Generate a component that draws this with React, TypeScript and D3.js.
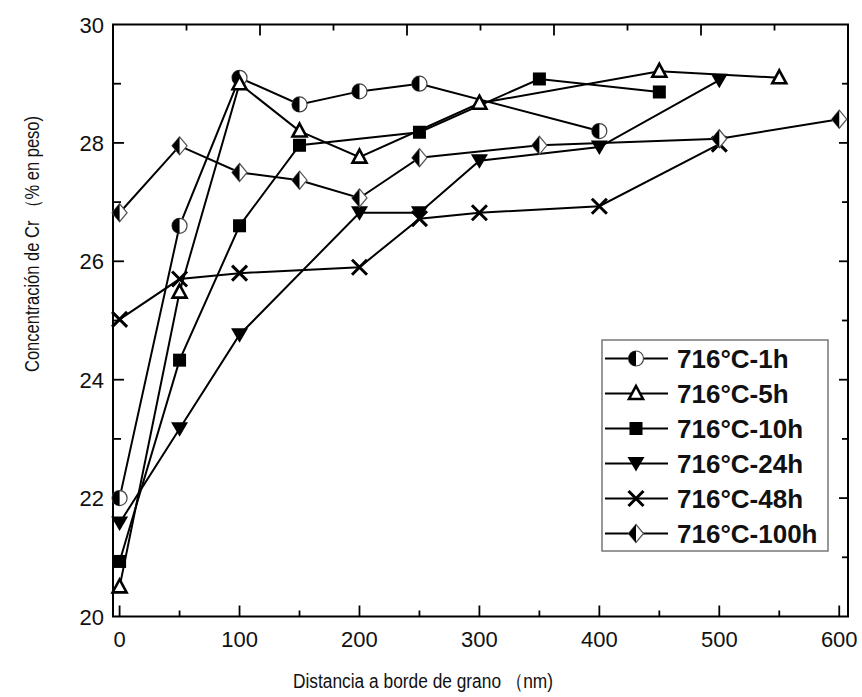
import React, { useEffect, useRef } from 'react';
import * as d3 from 'd3';

// distancia (nm) y concentración de Cr (% en peso) por tratamiento
const dist1h = [0, 50, 100, 150, 200, 250, 400];
const cr1h = [22.0, 26.6, 29.1, 28.65, 28.87, 29.0, 28.2];

const dist5h = [0, 50, 100, 150, 200, 300, 450, 550];
const cr5h = [20.5, 25.48, 29.0, 28.2, 27.76, 28.67, 29.21, 29.1];

const dist10h = [0, 50, 100, 150, 250, 350, 450];
const cr10h = [20.93, 24.33, 26.6, 27.96, 28.18, 29.08, 28.86];

const dist24h = [0, 50, 100, 200, 250, 300, 400, 500];
const cr24h = [21.58, 23.17, 24.76, 26.82, 26.82, 27.7, 27.93, 29.06];

const dist48h = [0, 50, 100, 200, 250, 300, 400, 500];
const cr48h = [25.02, 25.7, 25.8, 25.9, 26.72, 26.82, 26.93, 27.98];

const dist100h = [0, 50, 100, 150, 200, 250, 350, 500, 600];
const cr100h = [26.82, 27.95, 27.5, 27.37, 27.07, 27.75, 27.96, 28.07, 28.4];

const seriesNames = ['716°C-1h', '716°C-5h', '716°C-10h', '716°C-24h', '716°C-48h', '716°C-100h'];
const markerTypes = ['halfCircle', 'triangle', 'square', 'downTriangle', 'cross', 'halfDiamond'];

const xTicks = [0, 100, 200, 300, 400, 500, 600];
const yTicks = [20, 22, 24, 26, 28, 30];

const drawMarker = (g, type) => {
  if (type === 'halfCircle') {
    const r = 7.5;
    g.append('circle').attr('r', r).attr('fill', '#fff').attr('stroke', '#444').attr('stroke-width', 1.2);
    g.append('path').attr('d', `M0,${-r} A${r},${r} 0 0 0 0,${r} Z`).attr('fill', '#000');
  } else if (type === 'triangle') {
    g.append('path').attr('d', 'M0,-7.5 L7,5.5 L-7,5.5 Z')
      .attr('fill', '#fff').attr('stroke', '#000').attr('stroke-width', 2.6);
  } else if (type === 'square') {
    g.append('rect').attr('x', -6.5).attr('y', -6.5).attr('width', 13).attr('height', 13).attr('fill', '#000');
  } else if (type === 'downTriangle') {
    g.append('path').attr('d', 'M-8.5,-6.5 L8.5,-6.5 L0,8 Z').attr('fill', '#000');
  } else if (type === 'cross') {
    g.append('path').attr('d', 'M-7.5,-7.5 L7.5,7.5 M-7.5,7.5 L7.5,-7.5')
      .attr('stroke', '#000').attr('stroke-width', 3).attr('fill', 'none');
  } else if (type === 'halfDiamond') {
    g.append('path').attr('d', 'M0,-9 L7.5,0 L0,9 L-7.5,0 Z')
      .attr('fill', '#fff').attr('stroke', '#555').attr('stroke-width', 1.2);
    g.append('path').attr('d', 'M0,-9 L-7.5,0 L0,9 Z').attr('fill', '#000');
  }
};

const App = () => {
  const ref = useRef(null);

  useEffect(() => {
    const svg = d3.select(ref.current);
    svg.selectAll('*').remove();

    const left = 113, right = 848, top = 24.5, bottom = 616.5;
    const x = d3.scaleLinear().domain([-5.5, 607.3]).range([left, right]);
    const y = d3.scaleLinear().domain([20, 30]).range([bottom, top]);
    const xTop = d3.scaleLinear().domain([0, 10]).range([left, right]);

    const font = 'Arial, "Liberation Sans", sans-serif';

    const series = [
      { dist: dist1h, cr: cr1h },
      { dist: dist5h, cr: cr5h },
      { dist: dist10h, cr: cr10h },
      { dist: dist24h, cr: cr24h },
      { dist: dist48h, cr: cr48h },
      { dist: dist100h, cr: cr100h },
    ].map((s, i) => ({
      name: seriesNames[i],
      type: markerTypes[i],
      points: s.dist.map((d, j) => ({ d, v: s.cr[j] })),
    }));

    // marco
    svg.append('rect')
      .attr('x', left).attr('y', top)
      .attr('width', right - left).attr('height', bottom - top)
      .attr('fill', 'none').attr('stroke', '#000').attr('stroke-width', 2);

    const ticks = svg.append('g').attr('stroke', '#000').attr('stroke-width', 1.8);

    // eje inferior (ticks hacia dentro)
    d3.range(0, 601, 50).forEach(d => {
      const len = d % 100 === 0 ? 11 : 6;
      ticks.append('line').attr('x1', x(d)).attr('x2', x(d)).attr('y1', bottom).attr('y2', bottom - len);
    });

    // eje superior
    d3.range(1, 10).forEach(d => {
      const len = d % 2 === 0 ? 11 : 6;
      ticks.append('line').attr('x1', xTop(d)).attr('x2', xTop(d)).attr('y1', top).attr('y2', top + len);
    });

    // ejes izquierdo y derecho
    d3.range(21, 30).forEach(v => {
      const major = v % 2 === 0;
      ticks.append('line').attr('x1', left).attr('x2', left + (major ? 11 : 8)).attr('y1', y(v)).attr('y2', y(v));
      ticks.append('line').attr('x1', right).attr('x2', right - (major ? 9 : 6)).attr('y1', y(v)).attr('y2', y(v));
    });

    // etiquetas
    svg.append('g').selectAll('text').data(xTicks).enter().append('text')
      .attr('x', d => x(d)).attr('y', 647)
      .attr('text-anchor', 'middle')
      .attr('font-family', font).attr('font-size', 22).attr('fill', '#111')
      .text(d => d);

    svg.append('g').selectAll('text').data(yTicks).enter().append('text')
      .attr('x', 104).attr('y', d => y(d) + 8)
      .attr('text-anchor', 'end')
      .attr('font-family', font).attr('font-size', 22).attr('fill', '#111')
      .text(d => d);

    svg.append('text')
      .attr('x', 423).attr('y', 688)
      .attr('text-anchor', 'middle')
      .attr('textLength', 260).attr('lengthAdjust', 'spacingAndGlyphs')
      .attr('font-family', font).attr('font-size', 20).attr('fill', '#111')
      .text('Distancia a borde de grano （nm)');

    svg.append('text')
      .attr('transform', 'translate(39,244) rotate(-90)')
      .attr('text-anchor', 'middle')
      .attr('textLength', 256).attr('lengthAdjust', 'spacingAndGlyphs')
      .attr('font-family', font).attr('font-size', 20).attr('fill', '#111')
      .text('Concentración de Cr （% en peso)');

    // líneas
    const line = d3.line().x(p => x(p.d)).y(p => y(p.v));
    series.forEach(s => {
      svg.append('path')
        .attr('d', line(s.points))
        .attr('fill', 'none').attr('stroke', '#000').attr('stroke-width', 2);
    });

    // marcadores
    series.forEach(s => {
      s.points.forEach(p => {
        const g = svg.append('g').attr('transform', `translate(${x(p.d)},${y(p.v)})`);
        drawMarker(g, s.type);
      });
    });

    // leyenda
    const legend = svg.append('g');
    legend.append('rect')
      .attr('x', 602).attr('y', 340).attr('width', 226).attr('height', 211)
      .attr('fill', '#fff').attr('stroke', '#777').attr('stroke-width', 1.5);

    series.forEach((s, i) => {
      const ly = 358.5 + i * 35;
      legend.append('line')
        .attr('x1', 605).attr('x2', 668).attr('y1', ly).attr('y2', ly)
        .attr('stroke', '#000').attr('stroke-width', 2);
      drawMarker(legend.append('g').attr('transform', `translate(636,${ly})`), s.type);
      legend.append('text')
        .attr('x', 677).attr('y', ly + 9)
        .attr('font-family', font).attr('font-size', 26).attr('font-weight', 'bold').attr('fill', '#111')
        .text(s.name);
    });
  }, []);

  return (
    <svg
      ref={ref}
      width={862}
      height={697}
      style={{ position: 'absolute', left: 0, top: 0, background: '#fff' }}
    />
  );
};

export default App;
